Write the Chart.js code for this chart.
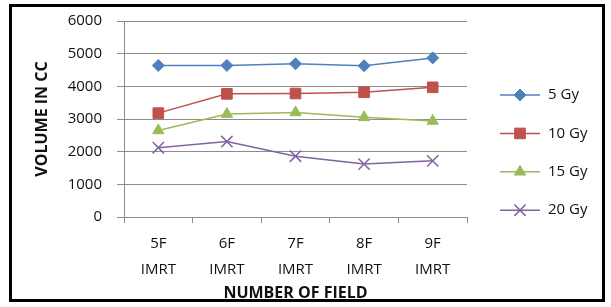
<!DOCTYPE html>
<html>
<head>
<meta charset="utf-8">
<script src="https://cdn.jsdelivr.net/npm/chart.js@4.4.1/dist/chart.umd.min.js"></script>
<style>
    body { margin: 0; background: #fff; }
    #frame {
        position: absolute; left: 9px; top: 4px;
        width: 596px; height: 298px;
        border: 3px solid #000; box-sizing: border-box; background: #fff;
    }
    #chart { display: block; }
</style>
</head>
<body>
<div id="frame"><canvas id="chart" width="590" height="292"></canvas></div>
<script>
// values
var categories = [["5F", "IMRT"], ["6F", "IMRT"], ["7F", "IMRT"], ["8F", "IMRT"], ["9F", "IMRT"]];
var gy5 = [4640, 4640, 4690, 4630, 4870];
var gy10 = [3180, 3770, 3780, 3820, 3970];
var gy15 = [2650, 3150, 3200, 3050, 2940];
var gy20 = [2120, 2310, 1860, 1620, 1720];
var seriesNames = ["5 Gy", "10 Gy", "15 Gy", "20 Gy"];
var yTicks = [0, 1000, 2000, 3000, 4000, 5000, 6000];

var textColor = "#111";
var gridColor = "#8c8c8c";
var fontFamily = "'Open Sans', sans-serif";

function makeSet(label, values, color, style, radius) {
    return {
        label: label,
        data: values,
        borderColor: color,
        backgroundColor: color,
        borderWidth: 1.5,
        pointStyle: style,
        pointRadius: radius,
        pointHoverRadius: radius,
        pointBackgroundColor: color,
        pointBorderColor: color,
        pointBorderWidth: style === "crossRot" ? 1.5 : 1,
        tension: 0
    };
}

// legend drawn like the excel one: short line with marker in the middle
var sideLegend = {
    id: "sideLegend",
    afterDraw: function (chart) {
        var ctx = chart.ctx;
        var x0 = chart.chartArea.right + 33;
        var y0 = 88;
        var step = 38.4;
        chart.data.datasets.forEach(function (ds, i) {
            var y = y0 + i * step;
            ctx.save();
            ctx.strokeStyle = ds.borderColor;
            ctx.fillStyle = ds.borderColor;
            ctx.lineWidth = 1.5;
            ctx.beginPath();
            ctx.moveTo(x0, y);
            ctx.lineTo(x0 + 40, y);
            ctx.stroke();
            ctx.lineWidth = ds.pointBorderWidth;
            Chart.helpers.drawPoint(ctx, {
                pointStyle: ds.pointStyle,
                radius: ds.pointRadius,
                rotation: 0,
                borderWidth: ds.pointBorderWidth
            }, x0 + 20, y);
            ctx.fillStyle = textColor;
            ctx.font = "15px " + fontFamily;
            ctx.textBaseline = "middle";
            ctx.textAlign = "left";
            ctx.fillText(ds.label, x0 + 48, y);
            ctx.restore();
        });
    }
};

new Chart(document.getElementById("chart").getContext("2d"), {
    type: "line",
    data: {
        labels: categories,
        datasets: [
            makeSet(seriesNames[0], gy5, "#4f81bd", "rectRot", 6),
            makeSet(seriesNames[1], gy10, "#c0504d", "rect", 7.5),
            makeSet(seriesNames[2], gy15, "#9bbb59", "triangle", 6.5),
            makeSet(seriesNames[3], gy20, "#8064a2", "crossRot", 8)
        ]
    },
    options: {
        responsive: false,
        animation: false,
        layout: { padding: { left: 21, right: 135, top: 14, bottom: 0 } },
        plugins: {
            legend: { display: false },
            tooltip: { enabled: false }
        },
        scales: {
            x: {
                offset: true,
                grid: {
                    offset: true,
                    drawOnChartArea: false,
                    drawTicks: true,
                    tickLength: 6,
                    color: gridColor
                },
                border: { display: true, color: gridColor },
                ticks: {
                    color: textColor,
                    padding: 8,
                    maxRotation: 0,
                    autoSkip: false,
                    font: { family: fontFamily, size: 15, lineHeight: 1.7 }
                },
                title: {
                    display: true,
                    text: "NUMBER OF FIELD",
                    color: textColor,
                    padding: 0,
                    font: { family: fontFamily, size: 16, weight: "bold", lineHeight: 0.7 }
                },
                afterFit: function (scale) { scale.height = 82; }
            },
            y: {
                min: 0,
                max: 6000,
                afterBuildTicks: function (scale) {
                    scale.ticks = yTicks.map(function (v) { return { value: v }; });
                },
                grid: { color: gridColor, tickLength: 7, drawTicks: true },
                border: { display: true, color: gridColor },
                ticks: {
                    color: textColor,
                    padding: 15,
                    font: { family: fontFamily, size: 15 },
                    callback: function (v) { return String(v); }
                },
                title: {
                    display: true,
                    text: "VOLUME IN CC",
                    color: textColor,
                    padding: 0,
                    font: { family: fontFamily, size: 16, weight: "bold", lineHeight: 1.2 }
                },
                afterFit: function (scale) {
                    scale.width = 91;
                    scale.paddingTop = 0;
                    scale.paddingBottom = 0;
                }
            }
        }
    },
    plugins: [sideLegend]
});
</script>
</body>
</html>
